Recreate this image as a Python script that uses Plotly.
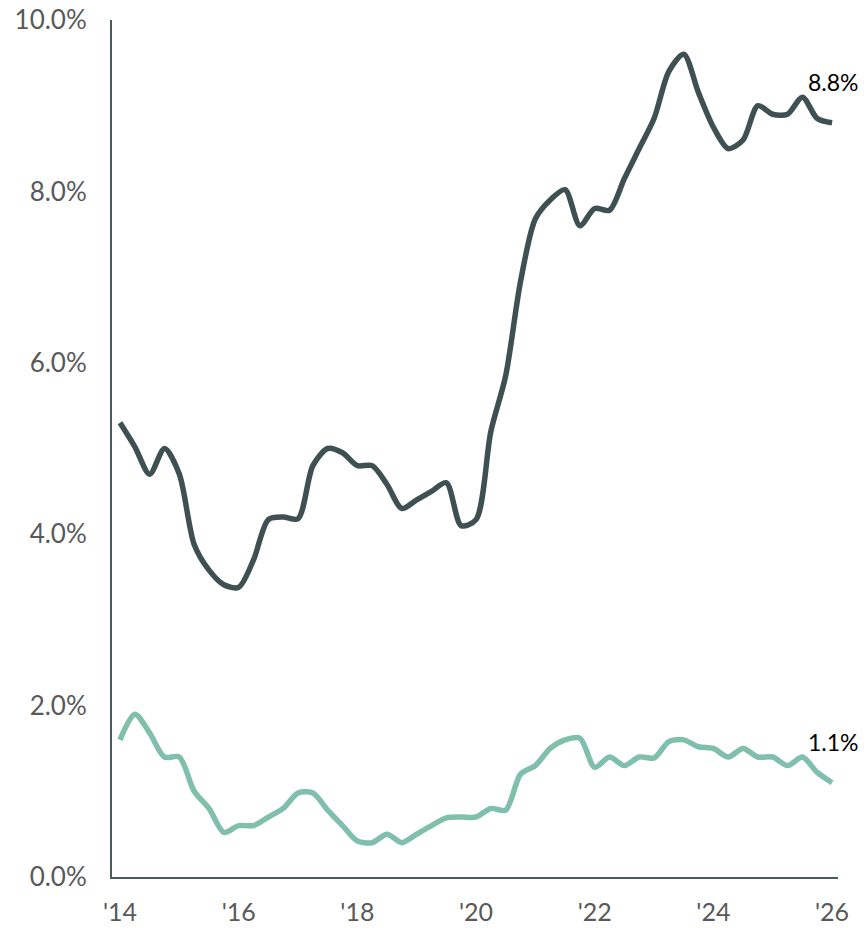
import plotly.graph_objects as go

# quarterly observations, 2014 Q1 .. 2026 Q1
years = [2014 + 0.25 * k for k in range(49)]

dark_values = [
    5.30, 5.02, 4.70, 5.00, 4.70, 3.88, 3.58, 3.41, 3.38, 3.70,
    4.17, 4.20, 4.18, 4.80, 5.00, 4.95, 4.80, 4.80, 4.58, 4.30,
    4.40, 4.50, 4.60, 4.10, 4.17, 5.20, 5.85, 6.95, 7.68, 7.90,
    8.02, 7.60, 7.80, 7.78, 8.15, 8.50, 8.85, 9.40, 9.60, 9.15,
    8.75, 8.50, 8.60, 9.00, 8.90, 8.90, 9.10, 8.85, 8.80,
]

teal_values = [
    1.60, 1.90, 1.68, 1.40, 1.40, 1.00, 0.80, 0.52, 0.60, 0.60,
    0.70, 0.80, 0.98, 0.98, 0.78, 0.60, 0.42, 0.40, 0.50, 0.40,
    0.50, 0.60, 0.69, 0.70, 0.70, 0.80, 0.78, 1.20, 1.30, 1.50,
    1.60, 1.62, 1.28, 1.40, 1.30, 1.40, 1.39, 1.58, 1.60, 1.52,
    1.50, 1.40, 1.50, 1.40, 1.40, 1.30, 1.40, 1.22, 1.10,
]

x_tick_vals = [2014, 2016, 2018, 2020, 2022, 2024, 2026]
x_tick_text = ["'14", "'16", "'18", "'20", "'22", "'24", "'26"]
y_tick_vals = [0, 2, 4, 6, 8, 10]
y_tick_text = ["0.0%", "2.0%", "4.0%", "6.0%", "8.0%", "10.0%"]

dark_color = "#3f5052"
teal_color = "#7fbfac"
axis_color = "#4b5b5b"
tick_color = "#595959"
font_family = "Lato"

fig = go.Figure()
fig.add_trace(go.Scatter(
    x=years, y=dark_values, mode="lines",
    line=dict(color=dark_color, width=5.5, shape="spline", smoothing=0.8),
    showlegend=False, hoverinfo="skip", cliponaxis=False,
))
fig.add_trace(go.Scatter(
    x=years, y=teal_values, mode="lines",
    line=dict(color=teal_color, width=5.5, shape="spline", smoothing=0.8),
    showlegend=False, hoverinfo="skip", cliponaxis=False,
))

for vals in (dark_values, teal_values):
    fig.add_annotation(
        x=years[-1], y=vals[-1], xref="x", yref="y",
        text=f"{vals[-1]:.1f}%", showarrow=False,
        yshift=41, xshift=1,
        font=dict(family=font_family, size=23, color="#000000"),
    )

fig.update_layout(
    width=864, height=928,
    margin=dict(l=112, r=26, t=20, b=51, autoexpand=False),
    paper_bgcolor="white", plot_bgcolor="white",
    font=dict(family=font_family, size=26, color=tick_color),
)
fig.update_xaxes(
    range=[2013.865, 2026.10],
    tickvals=x_tick_vals, ticktext=x_tick_text,
    showgrid=False, zeroline=False, automargin=False,
    showline=True, linecolor=axis_color, linewidth=2,
    ticks="", ticklabelstandoff=12, ticklabeloverflow="allow",
    tickfont=dict(family=font_family, size=25, color=tick_color),
)
fig.update_yaxes(
    range=[0, 10],
    tickvals=y_tick_vals, ticktext=y_tick_text,
    showgrid=False, zeroline=False, automargin=False,
    showline=True, linecolor=axis_color, linewidth=2,
    ticks="", ticklabelstandoff=18, ticklabeloverflow="allow",
    tickfont=dict(family=font_family, size=26, color=tick_color),
)

# remove the default page margin so the figure fills the window exactly
fig.write_html(
    "out.html",
    config={"displayModeBar": False},
    post_script="document.body.style.margin='0';document.body.style.overflow='hidden';",
)
